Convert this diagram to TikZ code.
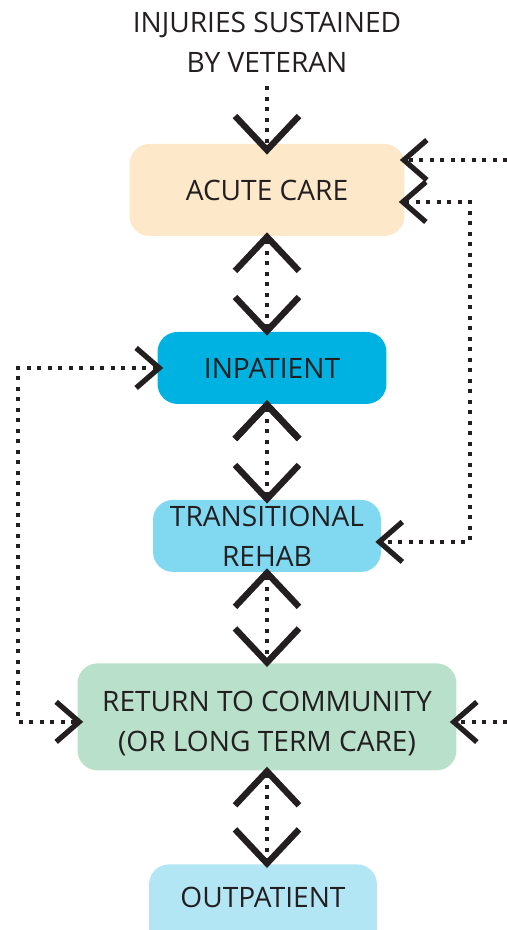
\documentclass[tikz,border=0pt]{standalone}
\usepackage{fontspec}
\setmainfont{Open Sans}
\usetikzlibrary{arrows.meta,positioning}

\definecolor{ink}{RGB}{35,31,32}
\definecolor{acutecol}{RGB}{253,232,202}
\definecolor{inpatcol}{RGB}{0,178,225}
\definecolor{rehabcol}{RGB}{128,216,241}
\definecolor{commcol}{RGB}{185,224,202}
\definecolor{outpatcol}{RGB}{179,230,245}

\begin{document}
\begin{tikzpicture}[x=0.02cm, y=-0.02cm, on grid, text=ink,
	font=\fontsize{16}{22.7}\selectfont,
	box/.style={rounded corners=0.4cm, inner sep=0pt, align=center},
	dots/.style={draw=ink, line width=2.3pt, dash pattern=on 0.08cm off 0.13cm},
	bigtip/.tip={Straight Barb[length=0.68cm, width=1.28cm, line width=3.6pt]},
	smalltip/.tip={Straight Barb[length=0.46cm, width=0.8cm, line width=3pt]},
	big/.style={dots, shorten <=-0.08cm, shorten >=-0.08cm, bigtip-bigtip},
	side/.style={dots, shorten <=-0.12cm, shorten >=-0.12cm, smalltip-smalltip}]
	\useasboundingbox (0,0) rectangle (507,930);

	\node (inj) at (267,42) [align=center] {INJURIES SUSTAINED\\BY VETERAN};
	\node[box, fill=acutecol, minimum width=5.5cm, minimum height=1.84cm] (acute) [below=2.96cm of inj] {ACUTE CARE};
	\node[box, fill=inpatcol, minimum width=4.58cm, minimum height=1.44cm] (inpat) [below=3.56cm of acute, xshift=0.1cm] {INPATIENT};
	\node[box, fill=rehabcol, minimum width=4.56cm, minimum height=1.44cm] (rehab) [below=3.36cm of inpat, xshift=-0.1cm] {TRANSITIONAL\\REHAB};
	\node[box, fill=commcol, minimum width=7.58cm, minimum height=2.14cm, text height=1.6cm, text depth=0.2cm] (comm) [below=3.62cm of rehab] {RETURN TO COMMUNITY\\(OR LONG TERM CARE)};
	\node[box, fill=outpatcol, minimum width=4.56cm, anchor=north, text height=0.86cm, text depth=1cm] (outpat) at (263,864) {OUTPATIENT};

	% free ends of the side inflows, and the two loop columns
	\coordinate (rin1) at (507,160);
	\coordinate (rin2) at (507,722);
	\coordinate (rloop) at (470,0);
	\coordinate (lloop) at (18,0);
	\coordinate (a1) at ([yshift=-0.24cm]acute.east);
	\coordinate (r1) at ([yshift=-0.12cm]rehab.east);
	\coordinate (c1) at ([yshift=-0.1cm]comm.west);

	\draw[dots, shorten <=0.16cm, shorten >=-0.22cm, -bigtip] (inj) -- (acute);

	\path[big]	(acute)	edge	(acute |- inpat.north)
				(rehab |- inpat.south)	edge	(rehab)
				(rehab)	edge	(rehab |- comm.north)
				(comm)	edge	(comm |- outpat.north);

	\draw[dots, shorten >=-0.1cm, -smalltip] (rin1) -- (rin1 -| acute.east);
	\draw[dots, shorten >=-0.14cm, -smalltip] (rin2) -- (rin2 -| comm.east);
	\draw[side] (a1) -| (rloop |- r1) -- (r1);
	\draw[side] (inpat.west) -| (lloop |- c1) -- (c1);
\end{tikzpicture}
\end{document}
